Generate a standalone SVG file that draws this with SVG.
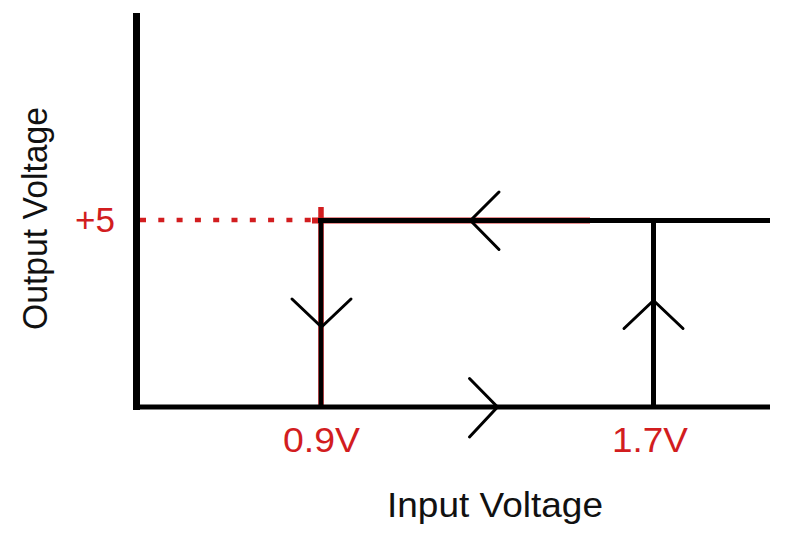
<svg xmlns="http://www.w3.org/2000/svg" width="800" height="538" viewBox="0 0 800 538">
<style>
.ax{stroke:#000;fill:none;stroke-linecap:butt}
.arw{stroke:#000;stroke-width:3;fill:none;stroke-linecap:round;stroke-linejoin:miter}
.red{stroke:#d21d1f;fill:none}
.lbl{font-family:"Liberation Sans",Arial,sans-serif;font-size:35px;fill:#d21d1f}
.ttl{font-family:"Liberation Sans",Arial,sans-serif;font-size:35px;fill:#111}
</style>
<rect width="800" height="538" fill="#fff"/>
<g id="guides">
<line class="red" x1="140" y1="220" x2="318" y2="220" stroke-width="4.5" stroke-dasharray="6 12.3"/>
<line class="red" x1="321" y1="207" x2="321" y2="407" stroke-width="5.5"/>
<line class="red" x1="312" y1="220.5" x2="590" y2="220.5" stroke-width="6"/>
</g>
<g id="axes">
<line class="ax" x1="136.5" y1="13" x2="136.5" y2="410" stroke-width="7"/>
<line class="ax" x1="133" y1="407" x2="770" y2="407" stroke-width="5"/>
</g>
<g id="connectors">
<line class="ax" x1="318" y1="220.5" x2="770" y2="220.5" stroke-width="5"/>
<line class="ax" x1="321" y1="220" x2="321" y2="407" stroke-width="4.5"/>
<line class="ax" x1="653.5" y1="220" x2="653.5" y2="407" stroke-width="5"/>
<polyline class="arw" points="292,299 321.5,327 351,299"/>
<polyline class="arw" points="499,192 470.5,220.5 499,249.5"/>
<polyline class="arw" points="624,328.5 653.5,300.5 683,328.5"/>
<polyline class="arw" points="469.5,378.5 497.5,407 469.5,437"/>
</g>
<g id="labels">
<text class="lbl" x="75" y="231.5" textLength="40" lengthAdjust="spacingAndGlyphs">+5</text>
<text class="lbl" x="283" y="451.5" textLength="77" lengthAdjust="spacingAndGlyphs">0.9V</text>
<text class="lbl" x="612" y="451.5" textLength="76" lengthAdjust="spacingAndGlyphs">1.7V</text>
<text class="ttl" x="387" y="517" textLength="216" lengthAdjust="spacingAndGlyphs">Input Voltage</text>
<text class="ttl" transform="translate(47,218.5) rotate(-90)" text-anchor="middle" textLength="223" lengthAdjust="spacingAndGlyphs">Output Voltage</text>
</g>
</svg>
